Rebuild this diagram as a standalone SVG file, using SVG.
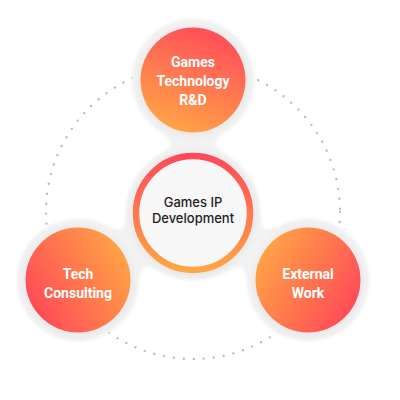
<svg xmlns="http://www.w3.org/2000/svg" width="400" height="400" viewBox="0 0 400 400">
<defs>
<style>
.lbl{font-family:Roboto,"Noto Sans",sans-serif;font-weight:700;font-size:14px;fill:#ffffff;text-anchor:middle}
.ctr{font-family:Inter,"Noto Sans",sans-serif;font-weight:500;font-size:13px;fill:#1e1e1e;text-anchor:middle}
.halo{fill:#f2f2f3}
</style>
<linearGradient id="gTop" x1="0.7" y1="0" x2="0.3" y2="1">
<stop offset="0" stop-color="#ff4b5a"/><stop offset="1" stop-color="#ffa646"/>
</linearGradient>
<linearGradient id="gLeft" x1="0" y1="0.8" x2="1" y2="0.2">
<stop offset="0" stop-color="#ff4558"/><stop offset="1" stop-color="#ffa845"/>
</linearGradient>
<linearGradient id="gRight" x1="0" y1="0.2" x2="1" y2="0.8">
<stop offset="0" stop-color="#ffa845"/><stop offset="1" stop-color="#ff4558"/>
</linearGradient>
<linearGradient id="gRing" x1="0" y1="0" x2="0" y2="1">
<stop offset="0" stop-color="#ff4a5a"/><stop offset="1" stop-color="#ffa545"/>
</linearGradient>
<filter id="goo" x="-20%" y="-20%" width="140%" height="140%">
<feGaussianBlur in="SourceGraphic" stdDeviation="10" result="b"/>
<feColorMatrix in="b" type="matrix" values="1 0 0 0 0  0 1 0 0 0  0 0 1 0 0  0 0 0 18 -7" result="g"/>
<feGaussianBlur in="g" stdDeviation="1.5"/>
</filter>
<filter id="sh" x="-30%" y="-30%" width="160%" height="160%">
<feDropShadow dx="0" dy="1" stdDeviation="4" flood-color="#000" flood-opacity="0.07"/>
</filter>
</defs>
<rect width="400" height="400" fill="#ffffff"/>
<g id="connectors">
<circle cx="193" cy="212" r="147" fill="none" stroke="#bcbcbc" stroke-width="2.4" stroke-linecap="round" stroke-dasharray="0 10"/>
</g>
<g id="halos" filter="url(#goo)">
<circle class="halo" cx="193" cy="80" r="60"/>
<circle class="halo" cx="193" cy="213" r="66"/>
<circle class="halo" cx="78" cy="280" r="60"/>
<circle class="halo" cx="308" cy="280" r="60"/>
</g>
<g id="node-top">
<circle cx="193" cy="80" r="52.5" fill="url(#gTop)" filter="url(#sh)"/>
<text class="lbl" x="193" y="67">Games</text>
<text class="lbl" x="193" y="86">Technology</text>
<text class="lbl" x="193" y="105">R&amp;D</text>
</g>
<g id="node-center">
<circle cx="193" cy="213" r="57" fill="#f7f7f7" stroke="url(#gRing)" stroke-width="6.5" filter="url(#sh)"/>
<text class="ctr" x="193" y="207">Games IP</text>
<text class="ctr" x="193" y="223">Development</text>
</g>
<g id="node-left">
<circle cx="78" cy="280" r="52.5" fill="url(#gLeft)" filter="url(#sh)"/>
<text class="lbl" x="78" y="279">Tech</text>
<text class="lbl" x="78" y="298">Consulting</text>
</g>
<g id="node-right">
<circle cx="308" cy="280" r="52.5" fill="url(#gRight)" filter="url(#sh)"/>
<text class="lbl" x="308" y="279">External</text>
<text class="lbl" x="308" y="298">Work</text>
</g>
</svg>
